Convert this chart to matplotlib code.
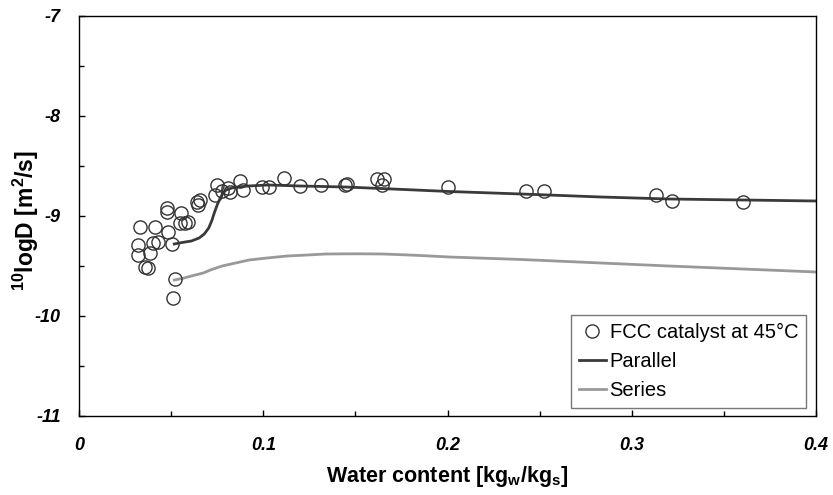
import matplotlib
matplotlib.use("Agg")
import matplotlib.pyplot as plt
from matplotlib.ticker import MultipleLocator
from matplotlib import font_manager

# Measured diffusivity of FCC catalyst at 45 °C (water content, 10log D)
water_content = [0.0319, 0.0322, 0.0331, 0.0358, 0.0376, 0.0385, 0.0403, 0.0412,
                 0.0430, 0.0476, 0.0476, 0.0485, 0.0503, 0.0509, 0.0521, 0.0548,
                 0.0554, 0.0575, 0.0593, 0.0639, 0.0657, 0.0644, 0.0738, 0.0747,
                 0.0775, 0.0810, 0.0820, 0.0874, 0.0892, 0.0992, 0.1031, 0.1113,
                 0.1202, 0.1313, 0.1444, 0.1456, 0.1616, 0.1655, 0.1643, 0.2004,
                 0.2426, 0.2525, 0.3132, 0.3217, 0.3602]
log_d = [-9.29, -9.39, -9.11, -9.51, -9.52, -9.37, -9.27, -9.11,
         -9.26, -8.92, -8.96, -9.16, -9.28, -9.82, -9.63, -9.07,
         -8.97, -9.07, -9.06, -8.86, -8.84, -8.89, -8.79, -8.69,
         -8.75, -8.72, -8.76, -8.65, -8.74, -8.71, -8.71, -8.62,
         -8.70, -8.69, -8.69, -8.68, -8.63, -8.63, -8.69, -8.71,
         -8.75, -8.75, -8.79, -8.85, -8.86]

# Parallel model curve
parallel_x = [0.0517, 0.0560, 0.0610, 0.0652, 0.0680, 0.0704, 0.0720, 0.0736,
              0.0752, 0.0767, 0.0782, 0.0798, 0.0830, 0.0860, 0.0920, 0.1026,
              0.1200, 0.1444, 0.1700, 0.2008, 0.2400, 0.2832, 0.3200, 0.3600, 0.4000]
parallel_y = [-9.28, -9.265, -9.25, -9.22, -9.18, -9.12, -9.05, -8.96,
              -8.88, -8.82, -8.77, -8.74, -8.72, -8.71, -8.70, -8.69,
              -8.70, -8.71, -8.73, -8.755, -8.78, -8.81, -8.83, -8.84, -8.85]

# Series model curve
series_x = [0.0517, 0.0560, 0.0610, 0.0674, 0.0720, 0.0777, 0.0850, 0.0923,
            0.1020, 0.1131, 0.1240, 0.1339, 0.1500, 0.1650, 0.1830, 0.2008,
            0.2400, 0.2832, 0.3200, 0.3600, 0.4000]
series_y = [-9.64, -9.625, -9.60, -9.57, -9.535, -9.50, -9.47, -9.44,
            -9.42, -9.40, -9.39, -9.38, -9.378, -9.38, -9.393, -9.41,
            -9.435, -9.47, -9.50, -9.53, -9.56]

x_ticks = [0, 0.1, 0.2, 0.3, 0.4]
x_tick_labels = ["0", "0.1", "0.2", "0.3", "0.4"]
y_ticks = [-11, -10, -9, -8, -7]
y_tick_labels = ["-11", "-10", "-9", "-8", "-7"]

installed = {f.name for f in font_manager.fontManager.ttflist}
if "Liberation Sans Narrow" in installed:
    title_family = ["Liberation Sans Narrow", "DejaVu Sans"]
    xlabel_size, ylabel_size = 18, 19
else:
    title_family = ["Liberation Sans", "DejaVu Sans"]
    xlabel_size, ylabel_size = 15.5, 16.5

plt.rcParams["font.family"] = ["Liberation Sans", "DejaVu Sans"]
plt.rcParams["mathtext.default"] = "regular"

fig = plt.figure(figsize=(8.33, 4.95), dpi=100)
ax = fig.add_axes([0.0948, 0.1596, 0.885, 0.8081])

ax.plot(water_content, log_d, linestyle="none", marker="o", markersize=9.5,
        markerfacecolor="none", markeredgecolor="#333333", markeredgewidth=1.0,
        label="FCC catalyst at 45°C", zorder=3)
ax.plot(parallel_x, parallel_y, color="#3a3a3a", linewidth=2.0, label="Parallel", zorder=2)
ax.plot(series_x, series_y, color="#999999", linewidth=2.0, label="Series", zorder=2)

ax.set_xlim(0, 0.4)
ax.set_ylim(-11, -7)
ax.set_xticks(x_ticks)
ax.set_xticklabels(x_tick_labels)
ax.set_yticks(y_ticks)
ax.set_yticklabels(y_tick_labels)
ax.xaxis.set_minor_locator(MultipleLocator(0.05))
ax.yaxis.set_minor_locator(MultipleLocator(0.5))
ax.tick_params(which="both", direction="in", width=1.0, color="black")
ax.tick_params(which="major", length=4)
ax.tick_params(which="minor", length=3.5)
ax.tick_params(axis="x", pad=15)
ax.tick_params(axis="y", pad=13)
for lbl in ax.get_xticklabels() + ax.get_yticklabels():
    lbl.set_fontstyle("italic")
    lbl.set_fontweight("bold")
    lbl.set_fontsize(13)

for sp in ax.spines.values():
    sp.set_color("black")
    sp.set_linewidth(1.0)

ax.set_xlabel("Water content [kg$_{w}$/kg$_{s}$]", fontsize=xlabel_size,
              fontweight="bold", family=title_family)
ax.set_ylabel("$^{10}$logD [m$^{2}$/s]", fontsize=ylabel_size,
              fontweight="bold", family=title_family)
ax.xaxis.set_label_coords(0.5, -0.12)
ax.yaxis.set_label_coords(-0.052, 0.49)

leg = ax.legend(loc="lower right", bbox_to_anchor=(0.9865, 0.02), fontsize=14.5,
                frameon=True, fancybox=False, handlelength=1.3, handletextpad=0.2,
                borderpad=0.4, labelspacing=0.5, borderaxespad=0)
leg.get_frame().set_edgecolor("#555555")
leg.get_frame().set_linewidth(1.0)

fig.savefig("out.png", dpi=100)
